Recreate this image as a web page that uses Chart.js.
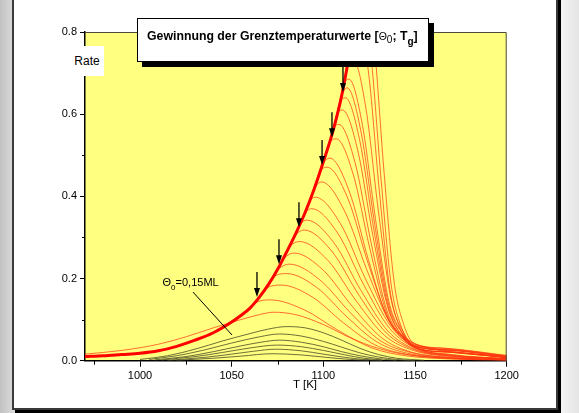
<!DOCTYPE html>
<html>
<head>
<meta charset="utf-8">
<script src="https://cdn.jsdelivr.net/npm/chart.js@4.4.1/dist/chart.umd.min.js"></script>
<style>
  html, body { margin: 0; padding: 0; }
  body {
    width: 579px; height: 413px; overflow: hidden; position: relative;
    background: linear-gradient(90deg, #c2c2c2 0px, #d8d8d8 12px, #ffffff 300px, #f3f3f3 562px, #e4e4e4 579px);
    font-family: "Liberation Sans", Arial, sans-serif;
  }
  #panel {
    position: absolute; left: 12px; top: -6px; width: 546px; height: 416px;
    box-sizing: border-box; background: #fff; border: 2px solid #3a3a3a;
    box-shadow: 3px 3px 0 #000;
  }
  #chart { position: absolute; left: 0; top: 0; }
  #title {
    position: absolute; left: 137px; top: 18px; width: 292px; height: 44px;
    box-sizing: border-box; background: #fff; border: 1px solid #000;
    box-shadow: 5px 5px 0 #000;
  }
  #title .txt {
    position: absolute; left: 9px; top: 10px; white-space: nowrap;
    font-size: 12.3px; line-height: 14px; color: #000;
  }
  #title b { font-weight: bold; }
  #title .th { font-size: 10.5px; }
  #title sub { font-size: 10px; line-height: 0; position: relative; top: 3px; vertical-align: baseline; }
  #title sub.g { top: 5px; font-weight: bold; }
  #rate {
    position: absolute; left: 70px; top: 46px; width: 34px; height: 30px;
    background: #fff; font-size: 12px; line-height: 30px; text-align: center; color: #000;
  }
  #xlabel {
    position: absolute; left: 280px; top: 377px; width: 50px; text-align: center;
    font-size: 11.5px; line-height: 14px; color: #000;
  }
  #annot {
    position: absolute; white-space: nowrap; font-size: 11px; line-height: 12px; color: #000;
  }
  #annot sub { font-size: 8px; line-height: 0; position: relative; top: 4px; vertical-align: baseline; }
</style>
</head>
<body>
<div id="panel"></div>
<canvas id="chart" width="579" height="413"></canvas>
<div id="title"><div class="txt"><b>Gewinnung der Grenztemperaturwerte [</b><span class="th">Θ</span><sub>0</sub><b>; T<sub class="g">g</sub>]</b></div></div>
<div id="rate">Rate</div>
<div id="xlabel">T [K]</div>
<div id="annot">Θ<sub>0</sub>=0,15ML</div>
<script>
// Axis ticks
const xTicks = [1000, 1050, 1100, 1150, 1200];
const xMinorTicks = [975, 1025, 1075, 1125, 1175];
const yTicks = [0, 0.2, 0.4, 0.6, 0.8];
const yMinorTicks = [0.1, 0.3, 0.5, 0.7];

// Common leading edge of the desorption spectra
const edgeT = [970, 980, 990, 1000, 1010, 1020, 1030, 1040, 1050, 1055, 1060, 1065, 1070, 1075, 1080, 1085, 1090, 1095, 1100, 1105, 1110, 1115, 1118, 1121, 1124];
const edgeRate = [0.010, 0.012, 0.015, 0.018, 0.024, 0.035, 0.050, 0.068, 0.094, 0.110, 0.128, 0.154, 0.185, 0.222, 0.265, 0.310, 0.360, 0.418, 0.484, 0.555, 0.645, 0.765, 0.840, 0.920, 1.000];

// Red spectra: point where each leaves the edge, its maximum, then the falling side
const leaveT = [1062, 1068, 1072, 1074.5, 1077.5, 1081, 1084, 1087, 1089.5, 1092, 1095, 1098, 1099.5, 1103, 1105.5, 1107.5, 1109, 1110, 1111, 1113, 1116.5, 1118, 1120];
const leaveRate = [0.138, 0.173, 0.200, 0.218, 0.243, 0.274, 0.301, 0.330, 0.355, 0.383, 0.418, 0.458, 0.477, 0.527, 0.564, 0.600, 0.627, 0.645, 0.669, 0.717, 0.800, 0.840, 0.893];
const peakT = [1071, 1077, 1080, 1081.5, 1084, 1087, 1089.5, 1091, 1093.5, 1095.5, 1099, 1102, 1103.5, 1107, 1108.5, 1110.5, 1112, 1113, 1114, 1116.5, 1119, 1120.5, 1122];
const peakRate = [0.148, 0.184, 0.212, 0.235, 0.262, 0.290, 0.318, 0.342, 0.370, 0.398, 0.435, 0.471, 0.493, 0.540, 0.575, 0.610, 0.640, 0.664, 0.685, 0.730, 0.830, 0.880, 0.930];
const fallT = [
  [1089.5, 1108, 1126.5, 1145, 1170, 1200],
  [1094, 1111, 1128, 1145, 1170, 1200],
  [1096.5, 1113, 1129.5, 1146, 1170, 1200],
  [1098, 1114.5, 1131, 1147.5, 1170, 1200],
  [1100, 1116, 1132, 1148, 1170, 1200],
  [1102.5, 1118, 1133.5, 1149, 1170, 1200],
  [1104.5, 1119.5, 1134.5, 1149.5, 1170, 1200],
  [1105.75, 1120.5, 1135.25, 1150, 1170, 1200],
  [1107.75, 1122, 1136.25, 1150.5, 1170, 1200],
  [1109.25, 1123, 1136.75, 1150.5, 1170, 1200],
  [1111.5, 1124, 1136.5, 1149, 1170, 1200],
  [1113.25, 1124.5, 1135.75, 1147, 1160, 1180, 1200],
  [1114, 1124.5, 1135, 1145.5, 1160, 1180, 1200],
  [1116.25, 1125.5, 1134.75, 1144, 1153.25, 1170, 1200],
  [1117.25, 1126, 1134.75, 1143.5, 1152.25, 1170, 1200],
  [1118.75, 1127, 1135.25, 1143.5, 1151.75, 1170, 1200],
  [1119.75, 1127.5, 1135.25, 1143, 1150.75, 1170, 1200],
  [1120.5, 1128, 1135.5, 1143, 1150.5, 1170, 1200],
  [1121.25, 1128.5, 1135.75, 1143, 1150.25, 1170, 1200],
  [1123.25, 1130, 1136.75, 1143.5, 1150.25, 1170, 1200],
  [1124.75, 1130.5, 1136.25, 1142, 1147.75, 1165, 1200],
  [1126, 1131.5, 1137, 1142.5, 1148, 1165, 1200],
  [1127.5, 1133, 1138.5, 1144, 1149.5, 1165, 1200]
];
const fallRate = [
  [0.124, 0.074, 0.031, 0.012, 0.004, 0.001],
  [0.155, 0.092, 0.039, 0.016, 0.005, 0.002],
  [0.178, 0.106, 0.045, 0.018, 0.006, 0.002],
  [0.197, 0.118, 0.049, 0.020, 0.007, 0.002],
  [0.220, 0.131, 0.055, 0.021, 0.008, 0.003],
  [0.244, 0.145, 0.061, 0.025, 0.010, 0.004],
  [0.267, 0.159, 0.067, 0.027, 0.011, 0.004],
  [0.287, 0.171, 0.072, 0.028, 0.012, 0.004],
  [0.311, 0.185, 0.078, 0.030, 0.013, 0.005],
  [0.334, 0.199, 0.084, 0.032, 0.014, 0.005],
  [0.365, 0.218, 0.091, 0.035, 0.015, 0.005],
  [0.396, 0.236, 0.099, 0.049, 0.028, 0.016, 0.008],
  [0.414, 0.247, 0.104, 0.051, 0.030, 0.017, 0.008],
  [0.454, 0.270, 0.113, 0.054, 0.028, 0.020, 0.008],
  [0.483, 0.288, 0.121, 0.056, 0.029, 0.021, 0.008],
  [0.512, 0.305, 0.128, 0.058, 0.029, 0.021, 0.008],
  [0.538, 0.320, 0.134, 0.060, 0.030, 0.021, 0.008],
  [0.558, 0.332, 0.139, 0.067, 0.035, 0.025, 0.010],
  [0.575, 0.343, 0.144, 0.068, 0.035, 0.025, 0.010],
  [0.613, 0.365, 0.153, 0.071, 0.036, 0.026, 0.010],
  [0.697, 0.415, 0.174, 0.077, 0.037, 0.028, 0.011],
  [0.739, 0.440, 0.185, 0.083, 0.041, 0.030, 0.012],
  [0.781, 0.465, 0.195, 0.086, 0.042, 0.031, 0.013]
];

// Lowest red spectrum, lying above the edge at low T
const lowRedT = [970, 990, 1010, 1025, 1040, 1055, 1065, 1073, 1085, 1100, 1115, 1130, 1145, 1170, 1200];
const lowRedRate = [0.016, 0.025, 0.040, 0.058, 0.080, 0.100, 0.112, 0.118, 0.112, 0.088, 0.055, 0.030, 0.015, 0.006, 0.002];

// Dark spectra, lowest coverages
const oliveT = [
  [1000, 1015, 1030, 1045, 1060, 1070, 1080, 1090, 1100, 1110, 1120, 1130, 1140, 1155],
  [1005, 1020, 1035, 1050, 1065, 1076, 1088, 1100, 1110, 1120, 1130, 1140, 1150],
  [1008, 1025, 1040, 1055, 1066, 1076, 1088, 1100, 1110, 1120, 1130, 1140],
  [1012, 1030, 1045, 1060, 1075, 1088, 1100, 1112, 1122, 1132],
  [1015, 1035, 1050, 1062, 1074, 1088, 1100, 1112, 1122, 1132],
  [1020, 1040, 1055, 1072, 1088, 1102, 1115, 1125]
];
const oliveRate = [
  [0.003, 0.012, 0.028, 0.048, 0.066, 0.077, 0.083, 0.080, 0.068, 0.050, 0.030, 0.015, 0.006, 0.001],
  [0.003, 0.012, 0.026, 0.043, 0.058, 0.065, 0.060, 0.047, 0.033, 0.019, 0.009, 0.003, 0.000],
  [0.002, 0.010, 0.022, 0.036, 0.045, 0.050, 0.045, 0.034, 0.022, 0.012, 0.005, 0.001],
  [0.002, 0.010, 0.020, 0.031, 0.038, 0.034, 0.025, 0.014, 0.006, 0.002],
  [0.001, 0.008, 0.016, 0.023, 0.028, 0.024, 0.016, 0.008, 0.003, 0.001],
  [0.001, 0.006, 0.011, 0.017, 0.014, 0.008, 0.003, 0.001]
];

// Arrows marking where spectra leave the edge
const arrowT = [1063.8, 1075.8, 1086.7, 1099.3, 1104.7, 1110.7];
const arrowRate = [0.155, 0.235, 0.325, 0.476, 0.544, 0.654];

const RED = 'rgba(255, 55, 15, 0.72)';
const OLIVE = 'rgba(85, 85, 45, 0.85)';

function toPoints(ts, rs) {
  return ts.map((t, k) => ({ x: t, y: rs[k] }));
}

function redSpectrum(i) {
  const pts = [];
  edgeT.forEach((t, k) => { if (t < leaveT[i]) pts.push({ x: t, y: edgeRate[k] }); });
  pts.push({ x: leaveT[i], y: leaveRate[i] });
  pts.push({ x: peakT[i], y: peakRate[i] });
  fallT[i].forEach((t, k) => pts.push({ x: t, y: fallRate[i][k] }));
  return pts;
}

const lineStyle = { pointRadius: 0, fill: false, cubicInterpolationMode: 'monotone' };

const datasets = [];
datasets.push({ ...lineStyle, data: toPoints(edgeT, edgeRate), borderColor: '#ff0000', borderWidth: 3 });
leaveT.forEach((t, i) => datasets.push({ ...lineStyle, data: redSpectrum(i), borderColor: RED, borderWidth: 1 }));
datasets.push({ ...lineStyle, data: toPoints(lowRedT, lowRedRate), borderColor: RED, borderWidth: 1 });
oliveT.forEach((ts, i) => datasets.push({ ...lineStyle, data: toPoints(ts, oliveRate[i]), borderColor: OLIVE, borderWidth: 1 }));

// Plot background, frame, minor ticks, arrows and the label pointer
const decorPlugin = {
  id: 'decor',
  beforeDraw(chart) {
    const { ctx, chartArea: a } = chart;
    ctx.save();
    ctx.fillStyle = '#ffff80';
    ctx.fillRect(a.left, a.top, a.right - a.left, a.bottom - a.top);
    ctx.restore();
  },
  afterDraw(chart) {
    const { ctx, chartArea: a, scales: { x, y } } = chart;
    ctx.save();
    // top and right frame
    ctx.strokeStyle = '#4a4a40';
    ctx.lineWidth = 1;
    ctx.beginPath();
    ctx.moveTo(a.left, a.top + 0.5);
    ctx.lineTo(a.right - 0.5, a.top + 0.5);
    ctx.lineTo(a.right - 0.5, a.bottom);
    ctx.stroke();

    // minor ticks
    ctx.strokeStyle = '#000';
    ctx.beginPath();
    xMinorTicks.forEach(v => {
      const px = Math.round(x.getPixelForValue(v)) + 0.5;
      ctx.moveTo(px, a.bottom);
      ctx.lineTo(px, a.bottom + 4);
    });
    yMinorTicks.forEach(v => {
      const py = Math.round(y.getPixelForValue(v)) + 0.5;
      ctx.moveTo(a.left - 3, py);
      ctx.lineTo(a.left, py);
    });
    ctx.stroke();

    // arrows
    ctx.fillStyle = '#000';
    ctx.lineWidth = 1.3;
    arrowT.forEach((t, i) => {
      const px = x.getPixelForValue(t);
      const py = y.getPixelForValue(arrowRate[i]);
      ctx.beginPath();
      ctx.moveTo(px, py - 25);
      ctx.lineTo(px, py - 6);
      ctx.stroke();
      ctx.beginPath();
      ctx.moveTo(px - 3, py - 9);
      ctx.lineTo(px + 3, py - 9);
      ctx.lineTo(px, py);
      ctx.closePath();
      ctx.fill();
    });

    // pointer from the coverage label
    ctx.lineWidth = 1;
    ctx.beginPath();
    ctx.moveTo(x.getPixelForValue(1028.9), y.getPixelForValue(0.167));
    ctx.lineTo(x.getPixelForValue(1050.2), y.getPixelForValue(0.0625));
    ctx.stroke();
    ctx.restore();

    const annot = document.getElementById('annot');
    annot.style.left = x.getPixelForValue(1012.3) + 'px';
    annot.style.top = (y.getPixelForValue(0.181) - 10) + 'px';
  }
};

Chart.defaults.font.family = '"Liberation Sans", Arial, sans-serif';
Chart.defaults.color = '#000';

new Chart(document.getElementById('chart'), {
  type: 'line',
  data: { datasets },
  options: {
    responsive: false,
    animation: false,
    events: [],
    layout: { padding: { left: 0, top: 32, right: 72.3, bottom: 0 } },
    plugins: { legend: { display: false }, tooltip: { enabled: false } },
    scales: {
      x: {
        type: 'linear', min: 970, max: 1200,
        afterBuildTicks: s => { s.ticks = xTicks.map(v => ({ value: v })); },
        afterFit: s => { s.height = 52.3; },
        ticks: { font: { size: 11 }, color: '#000', padding: 3, maxRotation: 0, autoSkip: false, callback: v => String(v) },
        grid: { drawOnChartArea: false, drawTicks: true, tickLength: 6, color: '#000' },
        border: { display: true, color: '#000', width: 1.5 }
      },
      y: {
        type: 'linear', min: 0, max: 0.8,
        afterBuildTicks: s => { s.ticks = yTicks.map(v => ({ value: v })); },
        afterFit: s => { s.width = 85; },
        ticks: { font: { size: 11 }, color: '#000', padding: 3, autoSkip: false, callback: v => v.toFixed(1) },
        grid: { drawOnChartArea: false, drawTicks: true, tickLength: 5, color: '#000' },
        border: { display: true, color: '#000', width: 1.5 }
      }
    }
  },
  plugins: [decorPlugin]
});
</script>
</body>
</html>
